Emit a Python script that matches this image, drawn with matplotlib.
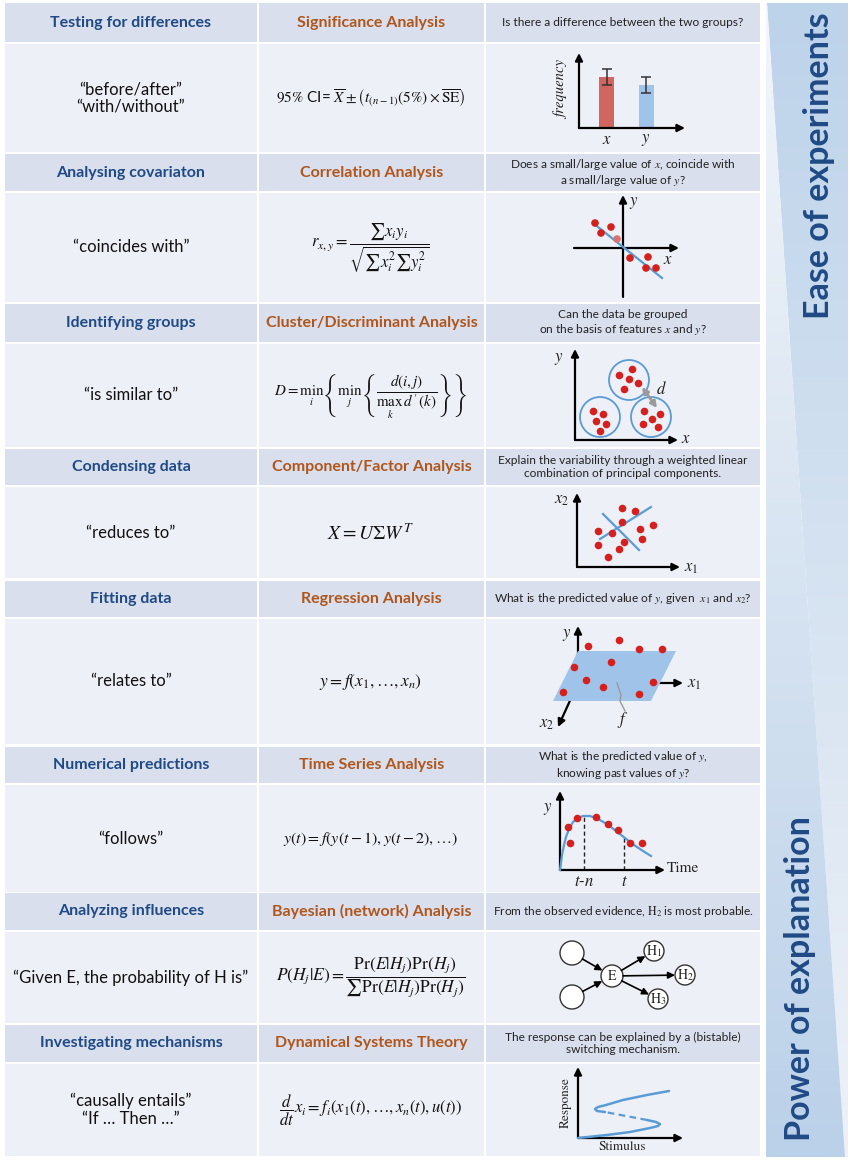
import numpy as np
import matplotlib
matplotlib.use("Agg")
import matplotlib.pyplot as plt
from matplotlib.patches import Rectangle, Polygon, Circle
from matplotlib.colors import to_rgb

plt.rcParams['font.family'] = ['Lato', 'DejaVu Sans']
plt.rcParams['mathtext.fontset'] = 'stix'

# ---- table text ----
tasks = ['Testing for differences', 'Analysing covariaton', 'Identifying groups',
         'Condensing data', 'Fitting data', 'Numerical predictions',
         'Analyzing influences', 'Investigating mechanisms']
methods = ['Significance Analysis', 'Correlation Analysis', 'Cluster/Discriminant Analysis',
           'Component/Factor Analysis', 'Regression Analysis', 'Time Series Analysis',
           'Bayesian (network) Analysis', 'Dynamical Systems Theory']
questions = ['Is there a difference between the two groups?',
             'Does a small/large value of $x$, coincide with\na small/large value of $y$?',
             'Can the data be grouped\non the basis of features $x$ and $y$?',
             'Explain the variability through a weighted linear\ncombination of principal components.',
             'What is the predicted value of $y$, given  $x_1$ and $x_2$?',
             'What is the predicted value of $y$,\nknowing past values of $y$?',
             r'From the observed evidence, $\mathrm{H}_2$ is most probable.',
             'The response can be explained by a (bistable)\nswitching mechanism.']
phrases = ['\u201cbefore/after\u201d\n\u201cwith/without\u201d', '\u201ccoincides with\u201d',
           '\u201cis similar to\u201d', '\u201creduces to\u201d', '\u201crelates to\u201d',
           '\u201cfollows\u201d', '\u201cGiven E, the probability of H is\u201d',
           '\u201ccausally entails\u201d\n\u201cIf \u2026 Then \u2026\u201d']
formulas = [r'$95\%$ CI= $\overline{X}\pm\left(t_{(n-1)}(5\%)\times\overline{\mathrm{SE}}\right)$',
            r'$r_{x,y}=\dfrac{\sum x_i y_i}{\sqrt{\sum x_i^2\sum y_i^2}}$',
            r"$D=\min_i\left\{\min_j\left\{\dfrac{d(i,j)}{\max_k\, d'(k)}\right\}\right\}$",
            r'$X=U\Sigma W^T$',
            r'$y=f\left(x_1,\ldots,x_n\right)$',
            r'$y(t)=f\left(y(t-1),y(t-2),\ldots\right)$',
            r'$P\left(H_j|E\right)=\dfrac{\mathrm{Pr}\left(E|H_j\right)\mathrm{Pr}\left(H_j\right)}{\sum\mathrm{Pr}\left(E|H_j\right)\mathrm{Pr}\left(H_j\right)}$',
            r'$\dfrac{d}{dt}x_i=f_i\left(x_1(t),\ldots,x_n(t),u(t)\right)$']
formula_sizes = [11, 12, 10.8, 14, 12.5, 11.5, 12.5, 12]

# ---- diagram data (local units, origin at the axis corner) ----
bar_names = ['x', 'y']
bar_centres = [27.5, 67]
bar_heights = [51, 43]
bar_errors = [8, 8]

corr_x = [-28, -12, -22, -6, 7, 25, 23, 33]
corr_y = [25, 21, 15, 9, -10, -9, -20, -20]
corr_fit_x = [-30, 39]
corr_fit_y = [25, -30]

cluster_cx = [54, 25, 76]
cluster_cy = [60, 23, 23]
clus_x = [57, 44, 54, 63, 49, 18, 28, 21, 31, 25, 69, 85, 77, 68, 83]
clus_y = [71, 65, 61, 57, 51, 29, 26, 19, 16, 9, 29, 26, 21, 16, 13]

pca_x = [45, 58, 45, 76, 21, 35, 63, 65, 47, 21, 42, 31]
pca_y = [59, 56, 45, 42, 36, 34, 38, 28, 25, 22, 18, 10]
pc1_x, pc1_y = [23, 74], [28, 60]
pc2_x, pc2_y = [26, 62], [53, 17]

plane_x = [0, 98, 73, -25]
plane_y = [32, 32, -18, -18]
reg_x = [10, 41, 61, 84, -4, 33, 8, 25, 75, -15, 61]
reg_y = [37, 43, 34, 34, 16, 21, 3, -4, 1, -9, -11]
f_x = [39, 41, 43, 42, 45, 47]
f_y = [0, -6, -12, -18, -24, -28]

ts_curve_x = [0, 2, 4, 6, 9, 13, 18, 23, 30, 38, 47, 56, 65, 74, 83, 91]
ts_curve_y = [0, 15, 25, 33, 41, 48, 52, 54, 54, 51, 46, 39, 32, 25, 19, 14]
ts_x = [8, 17, 36, 48, 58, 10, 70, 82]
ts_y = [43, 52, 53, 46, 40, 27, 27, 27]
ts_marks = [24, 64]
ts_mark_top = [54, 33]

node_labels = ['', '', 'E', r'$\mathrm{H}_1$', r'$\mathrm{H}_2$', r'$\mathrm{H}_3$']
node_x = [-40, -40, 0, 42, 73, 46]
node_y = [23, -21, 0, 25, 1, -23]
node_r = [12, 12, 11, 10, 10, 10]
edges = [(0, 2), (1, 2), (2, 3), (2, 4), (2, 5)]

bist_lo_x = [0, 29, 52, 72, 80, 82, 78, 69]
bist_lo_y = [0, 3, 6, 10, 12, 14, 16, 18]
bist_mid_x = [69, 48, 27]
bist_mid_y = [18, 22, 26]
bist_hi_x = [27, 19, 17, 20, 28, 45, 69, 91]
bist_hi_y = [26, 27, 29, 31, 33, 38, 43, 47]

# ---- layout (page pixels) ----
W, H = 851, 1160
head_top = [3, 154, 304, 449, 581, 747, 893, 1025]
head_bot = [42, 191, 342, 485, 617, 783, 930, 1062]
cell_bot = [152, 302, 447, 578, 744, 892, 1023, 1156]
col_left = [5, 259, 486]
col_right = [257, 484, 760]

HEAD = '#D9DFEC'
CELL = '#EDF0F6'
BLUE_TXT = '#1F4A85'
BROWN_TXT = '#B0561C'
RED = '#D5201E'
LBLUE = '#5B9BD5'
PLANE = '#9FC3E9'

fig = plt.figure(figsize=(W / 100, H / 100), dpi=100)
bg = fig.add_axes([0, 0, 1, 1])
bg.axis('off')

for i in range(8):
    for c in range(3):
        wd = col_right[c] - col_left[c]
        bg.add_patch(Rectangle((col_left[c], head_top[i]), wd, head_bot[i] - head_top[i],
                               fc=HEAD, ec='none'))
        bg.add_patch(Rectangle((col_left[c], head_bot[i] + 2), wd, cell_bot[i] - head_bot[i] - 2,
                               fc=CELL, ec='none'))
    hy = (head_top[i] + head_bot[i]) / 2
    cy = (head_bot[i] + 2 + cell_bot[i]) / 2
    cx = [(col_left[c] + col_right[c]) / 2 for c in range(3)]
    bg.text(cx[0], hy, tasks[i], ha='center', va='center', fontsize=11.5,
            fontweight='bold', color=BLUE_TXT)
    bg.text(cx[1], hy, methods[i], ha='center', va='center', fontsize=11.5,
            fontweight='bold', color=BROWN_TXT)
    bg.text(cx[2], hy, questions[i], ha='center', va='center', fontsize=8.6,
            color='#222222', linespacing=1.15)
    bg.text(cx[0], cy, phrases[i], ha='center', va='center', fontsize=12,
            color='#111111', linespacing=1.15)
    bg.text(cx[1] - 1, cy, formulas[i], ha='center', va='center',
            fontsize=formula_sizes[i], color='#111111')


# ---- sidebar: two gradient wedges split by a diagonal ----
def gradient(top, bottom, n=256):
    a, b = np.array(to_rgb(top)), np.array(to_rgb(bottom))
    t = np.linspace(0, 1, n)[:, None]
    return (a * (1 - t) + b * t)[:, None, :]


sb_x0, sb_x1, sb_y0, sb_y1 = 766, 848, 3, 1157
split_top, split_bot = 767, 845
im1 = bg.imshow(gradient('#BDD3EA', '#EEF2F8'), extent=(sb_x0, sb_x1, sb_y1, sb_y0),
                aspect='auto', zorder=2)
wedge1 = Polygon([(split_top, sb_y0), (sb_x1, sb_y0), (sb_x1, sb_y1), (split_bot, sb_y1)],
                 closed=True, fc='none', ec='none')
bg.add_patch(wedge1)
im1.set_clip_path(wedge1)
im2 = bg.imshow(gradient('#F3F6FA', '#BBD1E9'), extent=(sb_x0, sb_x1, sb_y1, sb_y0),
                aspect='auto', zorder=2)
wedge2 = Polygon([(sb_x0, sb_y0), (split_top, sb_y0), (split_bot, sb_y1), (sb_x0, sb_y1)],
                 closed=True, fc='none', ec='none')
bg.add_patch(wedge2)
im2.set_clip_path(wedge2)

bg.text(819, 166, 'Ease of experiments', rotation=90, ha='center', va='center',
        fontsize=24.5, fontweight='bold', color=BLUE_TXT, zorder=3)
bg.text(800, 979, 'Power of explanation', rotation=90, ha='center', va='center',
        fontsize=24.5, fontweight='bold', color=BLUE_TXT, zorder=3)

bg.set_xlim(0, W)
bg.set_ylim(H, 0)


# ---- diagrams ----
def panel(ox, oy, x0, x1, y0, y1):
    ax = fig.add_axes([(ox + x0) / W, 1 - (oy - y0) / H, (x1 - x0) / W, (y1 - y0) / H])
    ax.set_xlim(x0, x1)
    ax.set_ylim(y0, y1)
    ax.axis('off')
    return ax


def arrow(ax, p0, p1, lw=1.6, color='black', ms=11, style='-|>', z=3):
    ax.annotate('', xy=p1, xytext=p0, annotation_clip=False,
                arrowprops=dict(arrowstyle=style, color=color, lw=lw, mutation_scale=ms,
                                shrinkA=0, shrinkB=0), zorder=z)


def serif(ax, x, y, s, size=11, **kw):
    ax.text(x, y, s, ha='center', va='center', fontsize=size, family='STIXGeneral',
            color='#222222', **kw)


# 1 significance
ax = panel(579, 128, -30, 112, -20, 80)
ax.bar(bar_centres, bar_heights, width=15, color=['#D0665F', PLANE], zorder=2)
ax.errorbar(bar_centres, bar_heights, yerr=bar_errors, fmt='none', ecolor='#333333',
            elinewidth=1.1, capsize=3.5, capthick=1.1, zorder=3)
arrow(ax, (0, 0), (0, 75))
arrow(ax, (0, 0), (106, 0))
for xc, nm in zip(bar_centres, bar_names):
    serif(ax, xc, -12, f'${nm}$', 12)
serif(ax, -17, 38, 'frequency', 10.5, rotation=90, style='italic')

# 2 correlation
ax = panel(623, 248, -55, 60, -55, 60)
arrow(ax, (-49, 0), (56, 0))
arrow(ax, (0, -49), (0, 53))
ax.plot(corr_fit_x, corr_fit_y, color=LBLUE, lw=1.6, zorder=4)
dot_cols = [RED] * len(corr_x)
dot_cols[3] = '#D9716C'
ax.scatter(corr_x, corr_y, s=30, c=dot_cols, zorder=5, lw=0)
serif(ax, 11, 45, '$y$', 12)
serif(ax, 45, -12, '$x$', 12)

# 3 cluster
ax = panel(575, 440, -25, 120, -8, 95)
arrow(ax, (0, 0), (0, 91))
arrow(ax, (0, 0), (103, 0))
for xc, yc in zip(cluster_cx, cluster_cy):
    ax.add_patch(Circle((xc, yc), 20, fc='none', ec=LBLUE, lw=1.3, zorder=3))
ax.scatter(clus_x, clus_y, s=30, c=RED, zorder=5, lw=0)
arrow(ax, (67, 53), (82, 32), lw=2, color='#9A9A9A', ms=9, style='<|-|>', z=4)
serif(ax, 86, 51, '$d$', 12)
serif(ax, -16, 81, '$y$', 12)
serif(ax, 111, 1, '$x$', 12)

# 4 component
ax = panel(577, 567, -25, 125, -8, 80)
arrow(ax, (0, 0), (0, 74))
arrow(ax, (0, 0), (103, 0))
ax.plot(pc1_x, pc1_y, color=LBLUE, lw=1.6, zorder=3)
ax.plot(pc2_x, pc2_y, color=LBLUE, lw=1.6, zorder=3)
ax.scatter(pca_x, pca_y, s=30, c=RED, zorder=5, lw=0)
serif(ax, -15, 67, '$x_2$', 12)
serif(ax, 114, -1, '$x_1$', 12)

# 5 regression
ax = panel(578, 683, -40, 125, -48, 62)
arrow(ax, (0, 0), (0, 57), z=1)
arrow(ax, (0, 0), (105, 0), z=1)
arrow(ax, (0, 0), (-20, -44), z=1)
ax.add_patch(Polygon(list(zip(plane_x, plane_y)), closed=True, fc=PLANE, ec='none', zorder=2))
ax.plot(f_x, f_y, color='#9A9A9A', lw=1.0, zorder=3)
ax.scatter(reg_x, reg_y, s=30, c=RED, zorder=5, lw=0)
serif(ax, -11, 48, '$y$', 12)
serif(ax, 116, -1, '$x_1$', 12)
serif(ax, -31, -41, '$x_2$', 12)
serif(ax, 45, -37, '$f$', 12)

# 6 time series
ax = panel(560, 870, -20, 140, -20, 84)
arrow(ax, (0, 0), (0, 79))
arrow(ax, (0, 0), (105, 0))
ax.plot(ts_curve_x, ts_curve_y, color=LBLUE, lw=1.6, zorder=3)
for xm, ym in zip(ts_marks, ts_mark_top):
    ax.plot([xm, xm], [0, ym], color='#222222', lw=1, ls=(0, (3, 2)), zorder=2)
ax.scatter(ts_x, ts_y, s=30, c=RED, zorder=5, lw=0)
serif(ax, -12, 61, '$y$', 12)
serif(ax, 123, 2, 'Time', 11)
serif(ax, ts_marks[0], -12, '$t$-$n$', 12)
serif(ax, ts_marks[1], -12, '$t$', 12)

# 7 bayesian network
ax = panel(612, 976, -55, 85, -36, 38)
for xn, yn, rn, lab in zip(node_x, node_y, node_r, node_labels):
    ax.add_patch(Circle((xn, yn), rn, fc='white', ec='#333333', lw=1.0, zorder=3))
    if lab:
        serif(ax, xn, yn, lab, 10, zorder=4)
for a, b in edges:
    p = np.array([node_x[a], node_y[a]], float)
    q = np.array([node_x[b], node_y[b]], float)
    u = (q - p) / np.hypot(*(q - p))
    arrow(ax, tuple(p + u * node_r[a]), tuple(q - u * node_r[b]), lw=1.2, ms=10)

# 8 dynamical systems
ax = panel(578, 1138, -20, 110, -15, 75)
arrow(ax, (0, 0), (0, 71))
arrow(ax, (0, 0), (105, 0))
ax.plot(bist_lo_x, bist_lo_y, color=LBLUE, lw=1.8, zorder=3, solid_capstyle='round')
ax.plot(bist_mid_x, bist_mid_y, color=LBLUE, lw=1.6, ls=(0, (3, 2)), zorder=3)
ax.plot(bist_hi_x, bist_hi_y, color=LBLUE, lw=1.8, zorder=3, solid_capstyle='round')
serif(ax, -12, 35, 'Response', 9.5, rotation=90)
serif(ax, 44, -9, 'Stimulus', 9.5)

fig.savefig('out.png', dpi=100)
